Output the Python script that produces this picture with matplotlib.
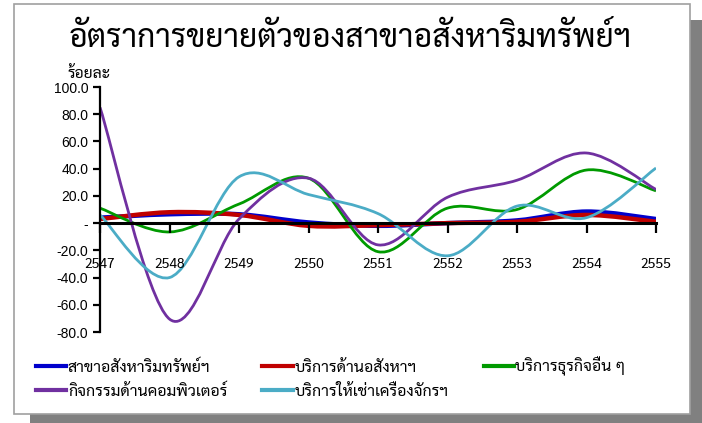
import numpy as np
import matplotlib
matplotlib.use("Agg")
import matplotlib.pyplot as plt
from matplotlib.path import Path
from matplotlib.patches import PathPatch, Rectangle
from matplotlib.lines import Line2D

plt.rcParams['font.family'] = ['Sarabun', 'DejaVu Sans']

# ---- data (ร้อยละ) ----
years = [2547, 2548, 2549, 2550, 2551, 2552, 2553, 2554, 2555]
real_estate = [4.0, 6.5, 6.5, 0.5, -2.0, 0.0, 2.0, 8.5, 3.0]
re_services = [3.0, 8.0, 6.0, -2.0, -1.5, 0.0, 1.0, 6.0, 1.0]
other_business = [11.0, -6.5, 14.0, 33.0, -21.0, 11.0, 10.0, 39.0, 23.7]
computer = [85.0, -70.5, 3.0, 33.0, -16.0, 19.0, 31.5, 51.5, 24.7]
machine_rental = [6.0, -40.0, 34.0, 21.0, 7.0, -24.0, 12.5, 4.0, 40.5]

names = ['สาขาอสังหาริมทรัพย์ฯ', 'บริการด้านอสังหาฯ', 'บริการธุรกิจอื่น ๆ',
         'กิจกรรมด้านคอมพิวเตอร์', 'บริการให้เช่าเครื่องจักรฯ']
colors = ['#0000CC', '#C00000', '#009A00', '#7030A0', '#4BACC6']
widths = [3.2, 3.2, 2.0, 2.0, 2.0]
yticks = [-80, -60, -40, -20, 0, 20, 40, 60, 80, 100]
ylabels = ['-80.0', '-60.0', '-40.0', '-20.0', '-', '20.0', '40.0', '60.0', '80.0', '100.0']


def smooth_path(x, y):
    # excel-like smoothed line: catmull-rom segments as cubic beziers
    x = np.asarray(x, float)
    y = np.asarray(y, float)
    px = np.r_[x[0], x, x[-1]]
    py = np.r_[y[0], y, y[-1]]
    verts = [(x[0], y[0])]
    codes = [Path.MOVETO]
    for i in range(len(x) - 1):
        c1 = (px[i + 1] + (px[i + 2] - px[i]) / 6, py[i + 1] + (py[i + 2] - py[i]) / 6)
        c2 = (px[i + 2] - (px[i + 3] - px[i + 1]) / 6, py[i + 2] - (py[i + 3] - py[i + 1]) / 6)
        verts += [c1, c2, (px[i + 2], py[i + 2])]
        codes += [Path.CURVE4] * 3
    return Path(verts, codes)


fig = plt.figure(figsize=(7.02, 4.23), dpi=100)
fig.patch.set_facecolor('white')

# chart frame with drop shadow
fig.patches.append(Rectangle((30 / 702, -7 / 423), 676 / 702, 410 / 423,
                             transform=fig.transFigure, facecolor='#808080',
                             edgecolor='none', zorder=-3))
fig.patches.append(Rectangle((14 / 702, 9 / 423), 676 / 702, 410 / 423,
                             transform=fig.transFigure, facecolor='white',
                             edgecolor='#A0A0A0', lw=1.2, zorder=-2))

ax = fig.add_axes([100 / 702, 91 / 423, 556 / 702, 245 / 423])
ax.patch.set_visible(False)

series = [real_estate, re_services, other_business, computer, machine_rental]
for vals, c, lw in zip(series, colors, widths):
    ax.add_patch(PathPatch(smooth_path(years, vals), fill=False, edgecolor=c,
                           lw=lw, joinstyle='round', capstyle='butt'))

ax.set_xlim(years[0], years[-1])
ax.set_ylim(-80, 100)
ax.set_yticks(yticks)
ax.set_yticklabels(ylabels, family='Liberation Sans', fontsize=10)
ax.set_xticks(years)
ax.set_xticklabels([str(y) for y in years], family='Liberation Sans', fontsize=14)

for s in ['top', 'right']:
    ax.spines[s].set_visible(False)
ax.spines['bottom'].set_position(('data', 0))
ax.spines['bottom'].set_linewidth(2.2)
ax.spines['left'].set_linewidth(1.6)
ax.tick_params(axis='y', direction='out', length=5, width=1.6, pad=3.5)
ax.tick_params(axis='x', direction='out', length=7, width=1.6, pad=18)

fig.text(350 / 702, 1 - 47 / 423, 'อัตราการขยายตัวของสาขาอสังหาริมทรัพย์ฯ',
         ha='center', va='baseline', fontsize=23)
fig.text(68 / 702, 1 - 78 / 423, 'ร้อยละ', ha='left', va='baseline', fontsize=11.3)

handles = [Line2D([], [], color=c, lw=3) for c in colors]
order = [0, 3, 1, 4, 2]
fig.legend([handles[i] for i in order], [names[i] for i in order],
           loc='upper left', bbox_to_anchor=(36 / 702, 1 - 357 / 423), ncol=3,
           frameon=False, fontsize=11.5, handlelength=1.9, handletextpad=0.1,
           columnspacing=2.2, labelspacing=0.55, borderpad=0, borderaxespad=0)

fig.savefig('out.png', dpi=100)
